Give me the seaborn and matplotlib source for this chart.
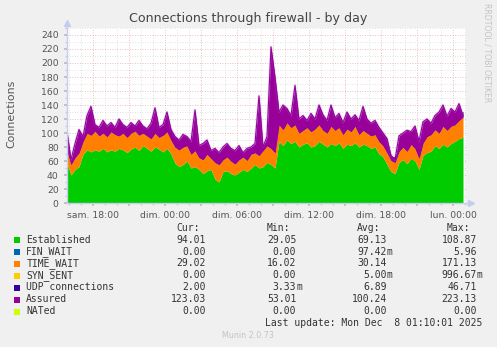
import matplotlib
matplotlib.use("Agg")
import numpy as np
import pandas as pd
import seaborn as sns
import matplotlib.pyplot as plt
import matplotlib.dates as mdates
from matplotlib.ticker import MultipleLocator, FuncFormatter
from matplotlib.patches import Rectangle
from matplotlib.lines import Line2D

# ---------------- data (20-minute samples) ----------------
times = pd.date_range("2025-12-06 15:50", periods=100, freq="20min")

established = [57, 40, 48, 52, 70, 76, 73, 76, 74, 78,
               73, 76, 74, 78, 76, 72, 77, 80, 75, 82,
               78, 74, 80, 77, 73, 78, 70, 57, 52, 55,
               60, 50, 52, 48, 42, 46, 48, 34, 30, 45,
               46, 42, 40, 44, 48, 45, 50, 55, 50, 52,
               58, 55, 50, 88, 82, 90, 85, 88, 80, 84,
               86, 80, 82, 88, 84, 80, 85, 82, 86, 78,
               84, 82, 86, 80, 84, 82, 78, 80, 70, 66,
               55, 45, 42, 58, 62, 56, 64, 60, 48, 68,
               72, 74, 82, 78, 84, 80, 85, 88, 92, 94]

time_wait = [18, 15, 17, 20, 18, 24, 24, 27, 22, 22,
             22, 26, 24, 18, 24, 22, 23, 23, 22, 18,
             18, 18, 20, 17, 24, 24, 20, 23, 24, 25,
             22, 20, 23, 17, 20, 24, 16, 24, 25, 17,
             20, 18, 16, 18, 18, 16, 20, 17, 18, 23,
             24, 23, 22, 24, 23, 25, 23, 24, 20, 20,
             22, 22, 24, 24, 20, 20, 25, 22, 22, 20,
             22, 20, 24, 18, 20, 18, 18, 18, 18, 16,
             17, 16, 16, 16, 18, 18, 20, 18, 16, 18,
             23, 24, 23, 22, 26, 24, 25, 24, 26, 29]

udp = [6, 5, 7, 8, 8, 6, 5, 7, 9, 6,
       8, 7, 5, 6, 9, 7, 6, 8, 5, 7,
       9, 6, 5, 8, 7, 6, 9, 7, 6, 8,
       5, 7, 6, 9, 8, 6, 7, 8, 9, 6,
       7, 8, 9, 7, 8, 6, 9, 7, 5, 8,
       6, 7, 5, 6, 8, 7, 5, 6, 7, 8,
       6, 7, 9, 5, 6, 7, 8, 6, 9, 7,
       5, 8, 6, 7, 5, 8, 9, 7, 6, 8,
       7, 6, 8, 5, 7, 9, 6, 8, 7, 6,
       8, 7, 6, 9, 7, 8, 6, 9, 7, 8]

assured = [102, 62, 85, 105, 95, 125, 138, 112, 108, 118,
           110, 115, 108, 120, 112, 108, 115, 110, 118, 110,
           106, 114, 136, 108, 112, 130, 105, 95, 90, 98,
           95, 88, 133, 82, 85, 90, 75, 78, 72, 80,
           85, 78, 75, 82, 72, 78, 80, 85, 153, 80,
           95, 223, 180, 130, 140, 135, 125, 168, 120, 125,
           118, 128, 120, 140, 126, 118, 140, 122, 128, 115,
           130, 120, 126, 118, 138, 120, 114, 118, 108, 100,
           92, 68, 62, 96, 100, 104, 102, 110, 88, 116,
           120, 114, 125, 130, 140, 124, 135, 130, 142, 125]

legend_names = ["Established", "FIN_WAIT", "TIME_WAIT", "SYN_SENT",
                "UDP connections", "Assured", "NATed"]
legend_colors = ["#00CC00", "#0066B3", "#FF8000", "#FFCC00",
                 "#330099", "#990099", "#CCFF00"]
cur_vals = ["94.01", "0.00", "29.02", "0.00", "2.00", "123.03", "0.00"]
min_vals = ["29.05", "0.00", "16.02", "0.00", "3.33m", "53.01", "0.00"]
avg_vals = ["69.13", "97.42m", "30.14", "5.00m", "6.89", "100.24", "0.00"]
max_vals = ["108.87", "5.96", "171.13", "996.67m", "46.71", "223.13", "0.00"]

day_names = {5: "sam.", 6: "dim.", 0: "lun."}

# ---------------- figure ----------------
sns.set_theme(style="white")
plt.rcParams["font.family"] = ["DejaVu Sans"]

W, H = 497, 347
fig = plt.figure(figsize=(W / 100, H / 100), dpi=100)
fig.patch.set_facecolor("#F0F0F0")

ax = fig.add_axes([67 / W, 1 - 203 / H, 399 / W, 175 / H])
ax.set_facecolor("white")

df = pd.DataFrame({"time": times, "established": established,
                   "time_wait": time_wait, "udp": udp, "assured": assured})
est = df["established"].to_numpy(float)
tw_top = est + df["time_wait"].to_numpy(float)
udp_top = tw_top + df["udp"].to_numpy(float)
ass = df["assured"].to_numpy(float)

ax.fill_between(df["time"], 0, est, color="#00CC00", lw=0, zorder=2)
ax.fill_between(df["time"], est, tw_top, color="#FF8000", lw=0, zorder=2)
ax.fill_between(df["time"], tw_top, udp_top, color="#330099", lw=0, zorder=2)
ax.fill_between(df["time"], tw_top, ass, where=ass >= tw_top, interpolate=True,
                color="#990099", lw=0, zorder=3)
sns.lineplot(data=df, x="time", y="assured", color="#990099", lw=0.8, ax=ax,
             zorder=4, legend=False)
sns.lineplot(data=df, x="time", y="assured", color="#9966dd", lw=1.8, ax=ax,
             zorder=3.5, alpha=0.25, legend=False)

ax.set_xlim(pd.Timestamp("2025-12-06 15:50"), pd.Timestamp("2025-12-08 01:05"))
ax.set_ylim(0, 250)
ax.set_xlabel("")
ax.set_ylabel("")

# ticks / grid
ax.yaxis.set_major_locator(MultipleLocator(20))
ax.yaxis.set_minor_locator(MultipleLocator(10))
ax.xaxis.set_major_locator(mdates.HourLocator(byhour=range(0, 24, 3)))
ax.xaxis.set_minor_locator(mdates.HourLocator())


def fmt_x(v, pos):
    d = mdates.num2date(v)
    if d.hour % 6 != 0:
        return ""
    return f"{day_names.get(d.weekday(), '')} {d:%H:%M}"


ax.xaxis.set_major_formatter(FuncFormatter(fmt_x))
ax.set_axisbelow(True)
ax.grid(which="minor", color="#d8d8d8", lw=0.6, ls=(0, (1, 2)))
ax.grid(which="major", color="#e4a8a8", lw=0.6, ls=(0, (1, 2)))
ax.tick_params(axis="both", which="major", length=2, color="#bbbbbb",
               labelsize=6.7, labelcolor="#555555")
ax.tick_params(axis="both", which="minor", length=1.5, color="#cccccc")
ax.tick_params(axis="y", pad=4)
ax.tick_params(axis="x", pad=3.5)
ax.tick_params(left=True, bottom=True, which="both")

for s in ["top", "right"]:
    ax.spines[s].set_visible(False)
for s in ["left", "bottom"]:
    ax.spines[s].set_color("#c4ccf0")
    ax.spines[s].set_linewidth(1)
    ax.spines[s].set_zorder(6)

ax.add_line(Line2D([0, 0], [1, 1.03], transform=ax.transAxes, color="#c4ccf0",
                   lw=1, clip_on=False))
ax.add_line(Line2D([1, 1.01], [0, 0], transform=ax.transAxes, color="#c4ccf0",
                   lw=1, clip_on=False))
ax.plot([0], [1.03], marker="^", ms=4, color="#c4ccf0", transform=ax.transAxes,
        clip_on=False, zorder=7)
ax.plot([1.012], [0], marker=">", ms=4, color="#c4ccf0", transform=ax.transAxes,
        clip_on=False, zorder=7)

# ---------------- overlay texts ----------------
ov = fig.add_axes([0, 0, 1, 1], zorder=10)
ov.set_xlim(0, W)
ov.set_ylim(H, 0)
ov.axis("off")
ov.patch.set_alpha(0)

ov.text(248.5, 18, "Connections through firewall - by day", ha="center",
        va="center", fontsize=9.1, color="#444444")
ov.text(11, 114, "Connections", ha="center", va="center", rotation=90,
        fontsize=7.9, color="#555555")
ov.text(487, 53, "RRDTOOL / TOBI OETIKER", ha="center", va="center",
        rotation=270, fontsize=5.6, color="#c4c4c4")

mono = dict(family="DejaVu Sans Mono", fontsize=7.0, color="#333333", va="center")
col_edges = [205.7, 296.3, 386.7, 476.7]
hdr_edges = [199.5, 290.0, 380.5, 470.5]
for h, xe in zip(["Cur:", "Min:", "Avg:", "Max:"], hdr_edges):
    ov.text(xe, 227.7, h, ha="right", **mono)

for i, (name, col) in enumerate(zip(legend_names, legend_colors)):
    yy = 239.5 + 12 * i
    ov.add_patch(Rectangle((14, yy - 3), 6, 6, color=col, lw=0))
    ov.text(26.3, yy, name, ha="left", **mono)
    for vals, xe in zip([cur_vals, min_vals, avg_vals, max_vals], col_edges):
        s = vals[i]
        if s.endswith("m"):
            ov.text(xe, yy, s[:-1], ha="right", **mono)
            ov.text(xe, yy, "m", ha="left", **mono)
        else:
            ov.text(xe, yy, s, ha="right", **mono)

ov.text(482.3, 323.5, "Last update: Mon Dec  8 01:10:01 2025", ha="right", **mono)
ov.text(248, 336, "Munin 2.0.73", ha="center", va="center", fontsize=5.8,
        color="#c4c4c4")

fig.savefig("out.png", dpi=100, facecolor=fig.get_facecolor())
